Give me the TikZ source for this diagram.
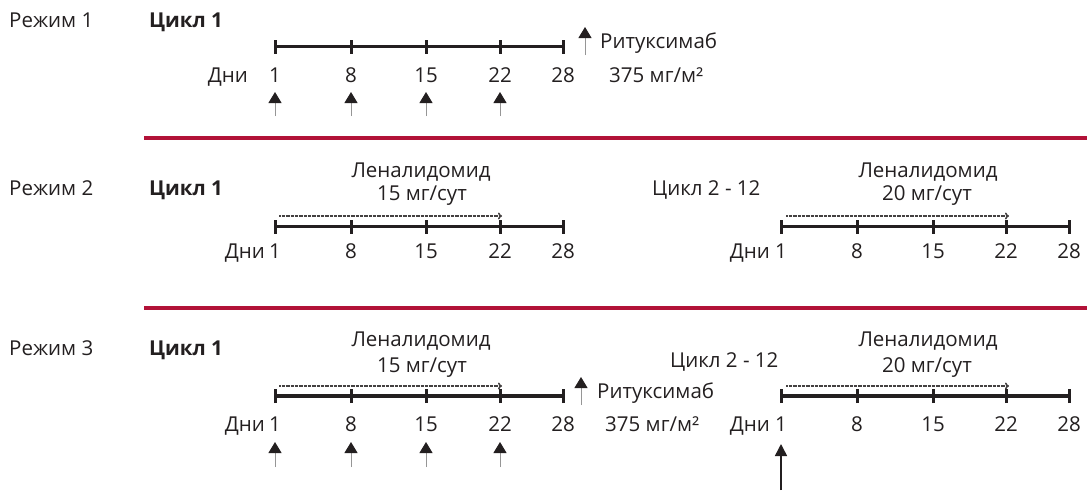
\documentclass[tikz,border=0pt]{standalone}
\usepackage{fontspec}
\setmainfont{Open Sans}
\usetikzlibrary{arrows.meta}
\definecolor{crimson}{RGB}{178,18,56}
\definecolor{shaft}{RGB}{150,150,150}
\definecolor{ink}{RGB}{35,31,32}
\begin{document}
\begin{tikzpicture}[x=1pt,y=-1pt,
  txt/.style={inner sep=0pt, font=\fontsize{20.5}{24}\selectfont, text=ink},
  bold/.style={inner sep=0pt, font=\fontsize{20.5}{24}\selectfont\bfseries, text=ink},
  axis/.style={line width=3.2pt, draw=ink},
  tickmark/.style={line width=3pt, draw=ink},
  dose/.style={draw=shaft, line width=1pt, -{Triangle[width=13pt,length=11pt,fill=ink,color=ink]}},
  bigdose/.style={draw=ink, line width=1.5pt, -{Triangle[width=12pt,length=12pt]}},
  drug/.style={draw=ink!85, line width=1.6pt, dash pattern=on 0.8pt off 0.5pt, -{To[length=4pt,width=7pt]}},
  sep/.style={draw=crimson, line width=4pt}
]
\useasboundingbox (0,0) rectangle (1087,490);

% ---------- Row 1 ----------
\node[txt, anchor=base west] (mode1) at (9,27) {Режим 1};
\node[bold, anchor=base west] (cyc1a) at (149,27) {Цикл 1};
\coordinate (r1s) at (275,46.5);
\coordinate (r1e) at (563,46.5);
\draw[axis] (r1s) -- (r1e);
\foreach \x/\d in {275/1,351/8,426/15,500/22,563/28} {
  \coordinate (r1k\d) at (\x,46.5);
  \draw[tickmark] ([yshift=-7pt]r1k\d) -- ([yshift=7pt]r1k\d);
  \node[txt, anchor=base] (r1l\d) at (\x,82) {\d};
}
\node[txt, anchor=base east] (r1days) at (248,82) {Дни};
\foreach \x in {275,351,426,500} {
  \coordinate (r1f\x) at (\x,116);
  \coordinate (r1h\x) at (\x,92);
  \draw[dose] (r1f\x) -- (r1h\x);
}
\coordinate (rx1f) at (585,55);
\coordinate (rx1h) at (585,27);
\draw[dose] (rx1f) -- (rx1h);
\node[txt, anchor=base west] (rx1) at (600,48) {Ритуксимаб};
\node[txt, anchor=base west] (rx1d) at (609,82) {375 мг/м²};

% separator 1
\coordinate (sep1a) at (144,138.3);
\coordinate (sep1b) at (1087,138.3);
\draw[sep] (sep1a) -- (sep1b);

% ---------- Row 2 ----------
\node[txt, anchor=base west] (mode2) at (9,195) {Режим 2};
\node[bold, anchor=base west] (cyc2a) at (149,195) {Цикл 1};
\coordinate (r2s) at (275,226.7);
\coordinate (r2e) at (563,226.7);
\draw[axis] (r2s) -- (r2e);
\foreach \x/\d in {275/1,351/8,426/15,500/22,563/28} {
  \coordinate (r2k\d) at (\x,226.7);
  \draw[tickmark] ([yshift=-7pt]r2k\d) -- ([yshift=7pt]r2k\d);
  \node[txt, anchor=base] (r2l\d) at (\x,258) {\d};
}
\node[txt, anchor=base east] (r2days) at (265,258) {Дни};
\coordinate (r2ds) at (279,216);
\coordinate (r2de) at (502,216);
\draw[drug] (r2ds) -- (r2de);
\node[txt, anchor=base] (r2len) at (421,177) {Леналидомид};
\node[txt, anchor=base] (r2dose) at (422,200) {15 мг/сут};

\node[txt, anchor=base west] (cyc2b) at (652,195) {Цикл 2 - 12};
\coordinate (r2rs) at (781,226.7);
\coordinate (r2re) at (1069,226.7);
\draw[axis] (r2rs) -- (r2re);
\foreach \x/\d in {781/1,857/8,933/15,1006/22,1069/28} {
  \coordinate (r2rk\d) at (\x,226.7);
  \draw[tickmark] ([yshift=-7pt]r2rk\d) -- ([yshift=7pt]r2rk\d);
  \node[txt, anchor=base] (r2rl\d) at (\x,258) {\d};
}
\node[txt, anchor=base east] (r2rdays) at (770,258) {Дни};
\coordinate (r2rds) at (786,216);
\coordinate (r2rde) at (1009,216);
\draw[drug] (r2rds) -- (r2rde);
\node[txt, anchor=base] (r2rlen) at (928,177) {Леналидомид};
\node[txt, anchor=base] (r2rdose) at (927,200) {20 мг/сут};

% separator 2
\coordinate (sep2a) at (144,307.7);
\coordinate (sep2b) at (1087,307.7);
\draw[sep] (sep2a) -- (sep2b);

% ---------- Row 3 ----------
\node[txt, anchor=base west] (mode3) at (9,355) {Режим 3};
\node[bold, anchor=base west] (cyc3a) at (149,355) {Цикл 1};
\coordinate (r3s) at (275,396);
\coordinate (r3e) at (563,396);
\draw[axis] (r3s) -- (r3e);
\foreach \x/\d in {275/1,351/8,426/15,500/22,563/28} {
  \coordinate (r3k\d) at (\x,396);
  \draw[tickmark] ([yshift=-7pt]r3k\d) -- ([yshift=7pt]r3k\d);
  \node[txt, anchor=base] (r3l\d) at (\x,431) {\d};
}
\node[txt, anchor=base east] (r3days) at (265,431) {Дни};
\coordinate (r3ds) at (279,386);
\coordinate (r3de) at (502,386);
\draw[drug] (r3ds) -- (r3de);
\node[txt, anchor=base] (r3len) at (421,346) {Леналидомид};
\node[txt, anchor=base] (r3dose) at (422,372) {15 мг/сут};
\foreach \x in {275,351,426,500} {
  \coordinate (r3f\x) at (\x,467);
  \coordinate (r3h\x) at (\x,442);
  \draw[dose] (r3f\x) -- (r3h\x);
}
\coordinate (rx3f) at (581,405);
\coordinate (rx3h) at (581,377);
\draw[dose] (rx3f) -- (rx3h);
\node[txt, anchor=base west] (rx3) at (597,398) {Ритуксимаб};
\node[txt, anchor=base west] (rx3d) at (605,431) {375 мг/м²};

\node[txt, anchor=base west] (cyc3b) at (670,367) {Цикл 2 - 12};
\coordinate (r3rs) at (781,396);
\coordinate (r3re) at (1069,396);
\draw[axis] (r3rs) -- (r3re);
\foreach \x/\d in {781/1,857/8,933/15,1006/22,1069/28} {
  \coordinate (r3rk\d) at (\x,396);
  \draw[tickmark] ([yshift=-7pt]r3rk\d) -- ([yshift=7pt]r3rk\d);
  \node[txt, anchor=base] (r3rl\d) at (\x,431) {\d};
}
\node[txt, anchor=base east] (r3rdays) at (770,431) {Дни};
\coordinate (r3rds) at (786,386);
\coordinate (r3rde) at (1009,386);
\draw[drug] (r3rds) -- (r3rde);
\node[txt, anchor=base] (r3rlen) at (928,346) {Леналидомид};
\node[txt, anchor=base] (r3rdose) at (927,372) {20 мг/сут};
\coordinate (bigf) at (781,490);
\coordinate (bigh) at (781,444);
\draw[bigdose] (bigf) -- (bigh);
\end{tikzpicture}
\end{document}
